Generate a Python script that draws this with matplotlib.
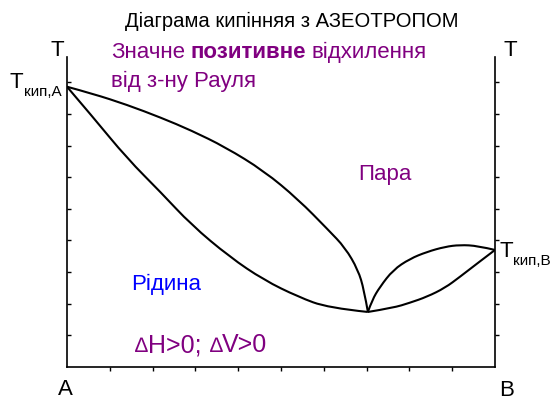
import matplotlib
matplotlib.use("Agg")
import matplotlib.pyplot as plt
from matplotlib.path import Path
from matplotlib.patches import PathPatch

plt.rcParams['font.family'] = ['Liberation Sans', 'DejaVu Sans']

# composition (0 = A, 1 = B) and boiling temperature (arbitrary units)
x_vap_left = [0.0, 0.06, 0.14, 0.22, 0.29, 0.37, 0.46, 0.54, 0.61, 0.65, 0.68, 0.694, 0.703]
t_vap_left = [8.86, 8.64, 8.29, 7.88, 7.48, 6.95, 6.20, 5.30, 4.34, 3.77, 3.07, 2.44, 1.74]

x_liq_left = [0.0, 0.06, 0.14, 0.22, 0.29, 0.38, 0.46, 0.54, 0.61, 0.703]
t_liq_left = [8.86, 7.91, 6.60, 5.51, 4.50, 3.48, 2.75, 2.22, 1.87, 1.74]

x_vap_right = [0.703, 0.713, 0.731, 0.762, 0.801, 0.841, 0.883, 0.918, 0.960, 1.0]
t_vap_right = [1.74, 2.12, 2.53, 3.07, 3.42, 3.64, 3.80, 3.86, 3.83, 3.70]

x_liq_right = [0.703, 0.762, 0.801, 0.841, 0.883, 0.918, 0.960, 1.0]
t_liq_right = [1.74, 1.87, 2.03, 2.22, 2.50, 2.85, 3.29, 3.70]

PURPLE = '#800080'
W, H = 554, 400


def smooth(xs, ts):
    # quadratic bezier through midpoints, the read points act as control points
    verts = [(xs[0], ts[0])]
    codes = [Path.MOVETO]
    n = len(xs)
    for i in range(1, n - 1):
        if i == n - 2:
            end = (xs[-1], ts[-1])
        else:
            end = ((xs[i] + xs[i + 1]) / 2, (ts[i] + ts[i + 1]) / 2)
        verts += [(xs[i], ts[i]), end]
        codes += [Path.CURVE3, Path.CURVE3]
    return Path(verts, codes)


fig = plt.figure(figsize=(W / 100, H / 100), dpi=100)
ax = fig.add_axes([67 / W, (H - 367) / H, 428 / W, 310 / H])

for xs, ts in [(x_vap_left, t_vap_left), (x_liq_left, t_liq_left),
               (x_vap_right, t_vap_right), (x_liq_right, t_liq_right)]:
    ax.add_patch(PathPatch(smooth(xs, ts), fill=False, edgecolor='black', lw=1.5))

ax.set_xlim(0, 1)
ax.set_ylim(0, 9.8)
ax.spines['top'].set_visible(False)
ax.spines['right'].set_visible(False)
for s in ['left', 'bottom']:
    ax.spines[s].set_linewidth(1.2)
ax.set_xticks([i / 10 for i in range(1, 10)])
ax.set_yticks(range(1, 10))
ax.tick_params(axis='x', direction='out', length=3, width=1, labelbottom=False)
ax.tick_params(axis='y', direction='in', length=3, width=1, labelleft=False)

ax2 = ax.twinx()
ax2.set_ylim(ax.get_ylim())
ax2.set_yticks(range(1, 10))
ax2.tick_params(axis='y', direction='out', length=3, width=1, labelright=False)
for s in ['left', 'top', 'bottom']:
    ax2.spines[s].set_visible(False)
ax2.spines['right'].set_linewidth(1.2)


def ftext(x, y, s, **kw):
    # x, y in pixels from top-left of the picture, y is the baseline
    return fig.text(x / W, 1 - y / H, s, va='baseline', **kw)


def rich(x, y, parts):
    # consecutive pieces of text with different styles; dy moves a piece down (px)
    t = ftext(x, y, parts[0][0], **parts[0][1])
    for s, props, gap, dy in parts[1:]:
        t = ax.annotate(s, xy=(1, 1 - (y + dy) / H), xycoords=(t, 'figure fraction'),
                        xytext=(gap, 0), textcoords='offset points',
                        va='baseline', ha='left', annotation_clip=False, **props)
    return t


ftext(292, 27, 'Діаграма кипінняя з АЗЕОТРОПОМ', ha='center', fontsize=14.6)
ftext(57, 56, 'T', ha='center', fontsize=16)
ftext(510, 56, 'T', ha='center', fontsize=16)

rich(111, 58, [('Значне', dict(color=PURPLE, fontsize=16)),
               ('позитивне', dict(color=PURPLE, fontsize=16, fontweight='bold'), 4, 0),
               ('відхилення', dict(color=PURPLE, fontsize=16), 4, 0)])
ftext(111, 87, 'від з-ну Рауля', color=PURPLE, fontsize=16)

rich(10, 88, [('T', dict(fontsize=16)), ('кип,A', dict(fontsize=11), 0.5, 8)])
rich(499, 257, [('T', dict(fontsize=16)), ('кип,B', dict(fontsize=11), 0.5, 8)])

ftext(358, 180, 'Пара', color=PURPLE, fontsize=16)
ftext(131, 290, 'Рідина', color='#0000ff', fontsize=16)

rich(135, 352, [('∆', dict(color=PURPLE, fontsize=15)),
                ('H>0;', dict(color=PURPLE, fontsize=18), 0, 0),
                ('∆', dict(color=PURPLE, fontsize=15), 6, 0),
                ('V>0', dict(color=PURPLE, fontsize=18), 0, 0)])

ftext(65, 395, 'A', ha='center', fontsize=16)
ftext(507, 396, 'B', ha='center', fontsize=16)

fig.savefig('out.png', dpi=100)
